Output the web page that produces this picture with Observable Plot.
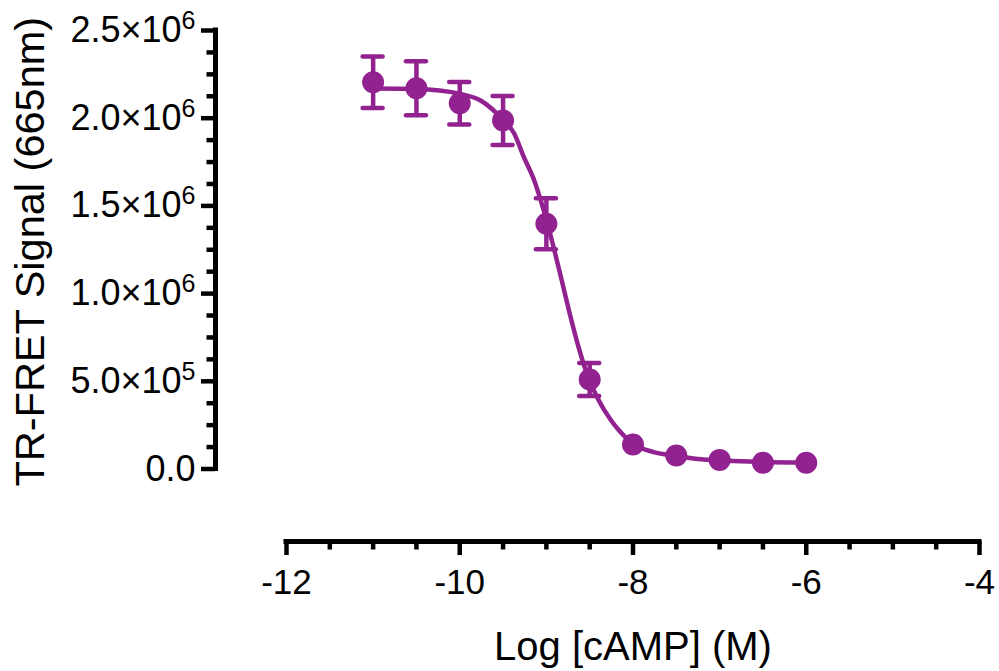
<!DOCTYPE html>
<html>
<head>
<meta charset="utf-8">
<script src="https://cdn.jsdelivr.net/npm/d3@7"></script>
<script src="https://cdn.jsdelivr.net/npm/@observablehq/plot@0.6"></script>
<style>
  html, body { margin: 0; padding: 0; background: #fff; }
</style>
</head>
<body>
<div id="chart"></div>
<script>
// ---- data ----
const logConc    = [-11, -10.5, -10, -9.5, -9, -8.5, -8, -7.5, -7, -6.5, -6];
const meanSignal = [2.205e6, 2.171e6, 2.085e6, 1.987e6, 1.398e6, 0.510e6, 0.140e6, 0.077e6, 0.052e6, 0.036e6, 0.036e6];
const sdSignal   = [0.147e6, 0.154e6, 0.121e6, 0.140e6, 0.145e6, 0.094e6, 0, 0, 0, 0, 0];

// fitted curve, points
const fitLogConc = [-11, -10.5, -10, -9.76, -9.53, -9.37, -9.26, -9.14, -9.04, -8.93, -8.83, -8.74, -8.64, -8.54, -8.41, -8.25, -8.16, -8.0, -7.76, -7.5, -7.21, -6.52, -6.0];
const fitSignal  = [2.169e6, 2.166e6, 2.139e6, 2.101e6, 2.006e6, 1.911e6, 1.778e6, 1.645e6, 1.490e6, 1.290e6, 1.090e6, 0.905e6, 0.715e6, 0.555e6, 0.405e6, 0.275e6, 0.219e6, 0.144e6, 0.096e6, 0.075e6, 0.055e6, 0.040e6, 0.037e6];

const xMajorTicks  = [-12, -10, -8, -6, -4];
const xMajorLabels = ["-12", "-10", "-8", "-6", "-4"];
const xMinorTicks  = [-11.5, -11, -10.5, -9.5, -9, -8.5, -7.5, -7, -6.5, -5.5, -5, -4.5];
const yMajorTicks    = [0, 5e5, 1e6, 1.5e6, 2e6, 2.5e6];
const yMajorMantissa = ["0.0", "5.0", "1.0", "1.5", "2.0", "2.5"];
const yMajorExponent = ["", "5", "6", "6", "6", "6"];
const yMinorTicks  = [1.25e5, 2.5e5, 3.75e5, 6.25e5, 7.5e5, 8.75e5, 1.125e6, 1.25e6, 1.375e6, 1.625e6, 1.75e6, 1.875e6, 2.125e6, 2.25e6, 2.375e6];
const xTitle = "Log [cAMP] (M)";
const yTitle = "TR-FRET Signal (665nm)";

// ---- build ----
const purple = "#912290";
const points = logConc.map((x, i) => ({x, y: meanSignal[i], sd: sdSignal[i]}));
const bars = points.filter(d => d.sd > 0);
const fit = fitLogConc.map((x, i) => ({x, y: fitSignal[i]}));

const yAxisShift = -71;   // detached y axis (Prism style)
const xAxisShift = 72.5;  // detached x axis
const axisW = 4.5;

const chart = Plot.plot({
  width: 999,
  height: 671,
  marginLeft: 286,
  marginRight: 20,
  marginTop: 30,
  marginBottom: 202.5,
  x: {domain: [-12, -4], label: null},
  y: {domain: [0, 2.5e6], label: null},
  style: {fontFamily: "'Liberation Sans', Arial, Helvetica, sans-serif", color: "black", background: "white", overflow: "visible"},
  marks: [
    // y axis
    Plot.ruleX([-12], {y1: 0, y2: 2.5e6, dx: yAxisShift, stroke: "black", strokeWidth: axisW + 0.5, strokeLinecap: "square"}),
    Plot.axisY(yMinorTicks, {anchor: "left", tickSize: 8.5, dx: yAxisShift, strokeWidth: axisW, fill: "none", label: null}),
    Plot.axisY(yMajorTicks, {anchor: "left", tickSize: 14, dx: yAxisShift, strokeWidth: axisW, tickPadding: 6, fontSize: 36, label: null,
      tickFormat: d => {
        const i = yMajorTicks.indexOf(d);
        return yMajorExponent[i] ? `${yMajorMantissa[i]}×10^${yMajorExponent[i]}` : yMajorMantissa[i];
      }}),
    // x axis
    Plot.ruleY([0], {x1: -12, x2: -4, dy: xAxisShift, stroke: "black", strokeWidth: axisW + 0.5, strokeLinecap: "square"}),
    Plot.axisX(xMinorTicks, {anchor: "bottom", tickSize: 8.5, dy: xAxisShift, strokeWidth: axisW, fill: "none", label: null}),
    Plot.axisX(xMajorTicks, {anchor: "bottom", tickSize: 14, dy: xAxisShift, strokeWidth: axisW, tickPadding: 14, fontSize: 35, label: null,
      tickFormat: d => xMajorLabels[xMajorTicks.indexOf(d)]}),
    // titles
    Plot.text([xTitle], {frameAnchor: "bottom", textAnchor: "middle", lineAnchor: "middle", dy: 178, fontSize: 40, text: d => d, fill: "black"}),
    Plot.text([yTitle], {frameAnchor: "left", textAnchor: "middle", lineAnchor: "middle", rotate: -90, dx: -256, dy: 2, fontSize: 41.5, text: d => d, fill: "black"}),
    // data
    Plot.line(fit, {x: "x", y: "y", stroke: purple, strokeWidth: 4.5, curve: "monotone-x"}),
    Plot.ruleX(bars, {x: "x", y1: d => d.y - d.sd, y2: d => d.y + d.sd, stroke: purple, strokeWidth: 4.5}),
    Plot.ruleY(bars, {x1: "x", x2: "x", y: d => d.y + d.sd, insetLeft: -10, insetRight: -10, stroke: purple, strokeWidth: 4.5, strokeLinecap: "round"}),
    Plot.ruleY(bars, {x1: "x", x2: "x", y: d => d.y - d.sd, insetLeft: -10, insetRight: -10, stroke: purple, strokeWidth: 4.5, strokeLinecap: "round"}),
    Plot.dot(points, {x: "x", y: "y", r: 11, fill: purple, stroke: "none"})
  ]
});

// superscript exponents on y tick labels
const svgNS = "http://www.w3.org/2000/svg";
d3.select(chart).selectAll('g[aria-label="y-axis tick label"] text').each(function() {
  const parts = this.textContent.split("^");
  if (parts.length === 2) {
    this.textContent = parts[0];
    const ts = document.createElementNS(svgNS, "tspan");
    ts.setAttribute("dy", "-13");
    ts.setAttribute("font-size", "25");
    ts.textContent = parts[1];
    this.appendChild(ts);
  }
});

document.getElementById("chart").appendChild(chart);
</script>
</body>
</html>
